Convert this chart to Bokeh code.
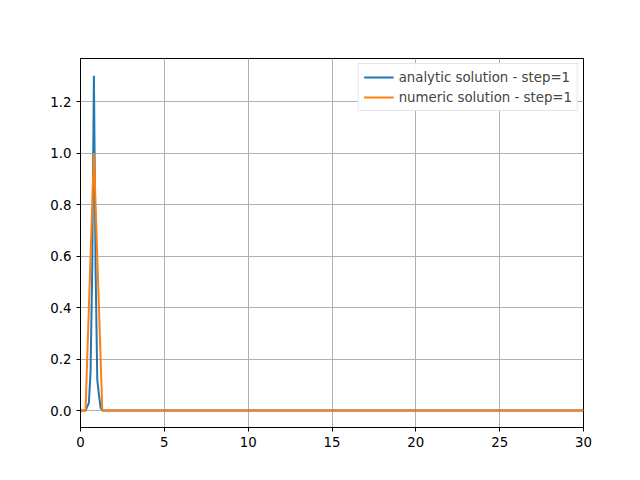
from bokeh.plotting import figure
from bokeh.models import FixedTicker, Range1d, CustomJSTickFormatter
from bokeh.embed import file_html
from bokeh.resources import INLINE

analytic_x = [0.0, 0.3, 0.5, 0.6, 0.7, 0.8, 0.9, 1.0, 1.1, 1.2, 1.3, 30.0]
analytic_y = [0.0, 0.0, 0.03, 0.15, 0.55, 1.30, 0.55, 0.12, 0.06, 0.01, 0.0, 0.0]
numeric_x = [0.0, 0.3, 0.8, 1.3, 30.0]
numeric_y = [0.0, 0.0, 1.0, 0.0, 0.0]

p = figure(width=624, height=464, output_backend="svg", toolbar_location=None,
           x_range=Range1d(0, 30), y_range=Range1d(-0.066, 1.367),
           min_border_left=80, min_border_right=41, min_border_top=58, min_border_bottom=37)
p.line(analytic_x, analytic_y, line_color="#1f77b4", line_width=2, legend_label="analytic solution - step=1")
p.line(numeric_x, numeric_y, line_color="#ff7f0e", line_width=2, legend_label="numeric solution - step=1")

p.xaxis.ticker = FixedTicker(ticks=[0, 5, 10, 15, 20, 25, 30])
p.yaxis.ticker = FixedTicker(ticks=[0.0, 0.2, 0.4, 0.6, 0.8, 1.0, 1.2])
p.yaxis.formatter = CustomJSTickFormatter(code="return tick.toFixed(1)")
for ax in (p.xaxis, p.yaxis):
    ax.major_label_text_font = "DejaVu Sans"
    ax.major_label_text_font_size = "10pt"
    ax.major_label_text_color = "black"
    ax.axis_line_color = "black"
    ax.major_tick_line_color = "black"
    ax.minor_tick_line_color = None
    ax.major_tick_in = 0
    ax.major_tick_out = 4
p.grid.grid_line_color = "#b0b0b0"
p.grid.grid_line_alpha = 1.0
p.outline_line_color = "black"
p.background_fill_color = "white"
p.border_fill_color = "white"

p.legend.location = "top_right"
p.legend.label_text_font = "DejaVu Sans"
p.legend.label_text_font_size = "10pt"
p.legend.border_line_color = "#cccccc"
p.legend.glyph_height = 16
p.legend.label_height = 16
p.legend.glyph_width = 30
p.legend.spacing = 4
p.legend.padding = 5
p.legend.margin = 5

open("out.html", "w").write(file_html(p, INLINE))
